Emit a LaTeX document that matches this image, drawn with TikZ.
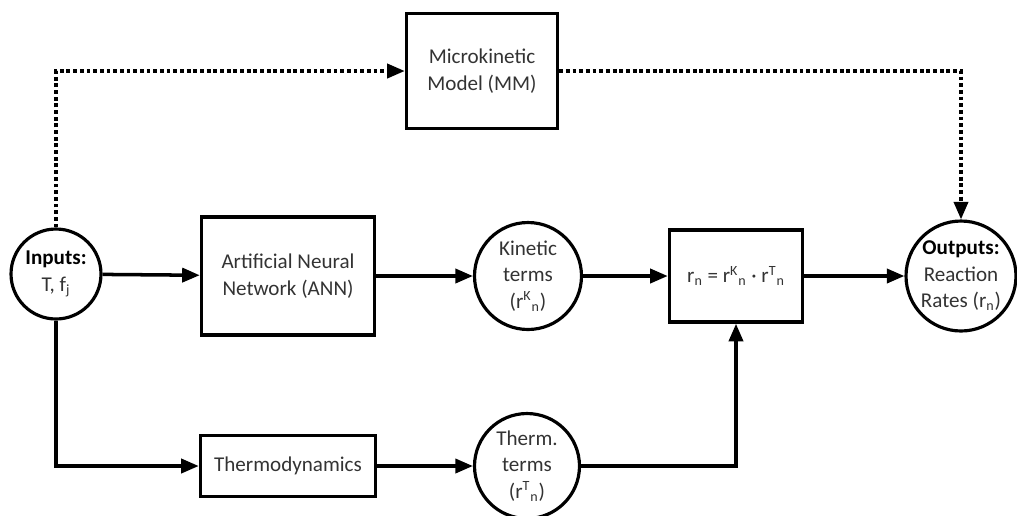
\documentclass[tikz,border=0pt]{standalone}
\usepackage{fontspec}
\setmainfont{Carlito}
\usetikzlibrary{arrows.meta}

\begin{document}
\begin{tikzpicture}[x=0.02cm,y=-0.02cm]
\tikzstyle{blk} = [draw,line width=2pt,rectangle,align=center,text=black!80,font=\fontsize{12}{15}\selectfont]
\tikzstyle{cir} = [draw,line width=1.8pt,circle,align=center,inner sep=0mm,text=black!80,font=\fontsize{12}{15}\selectfont]
\tikzstyle{a} = [line width=2pt,-{Triangle[length=10pt,width=8pt]}]
\tikzstyle{d} = [a,dash pattern=on 2.2pt off 1.6pt]
\useasboundingbox (0,0) rectangle (1017,515);
\node[cir,minimum size=1.8cm] (in) at (56,274) {\textbf{\color{black}Inputs:}\\T, f\textsubscript{j}};
\node[blk,minimum width=3.02cm,minimum height=2.3cm] (mm) at (482,71) {Microkinetic\\Model (MM)};
\node[blk,minimum width=3.46cm,minimum height=2.36cm] (ann) at (288,276) {Artificial Neural\\Network (ANN)};
\node[cir,minimum size=2.14cm] (kin) at (528,276) {Kinetic\\terms\\(r\textsuperscript{K}\textsubscript{n})};
\node[blk,minimum width=2.66cm,minimum height=1.84cm] (rn) at (736,276) {r\textsubscript{n} = r\textsuperscript{K}\textsubscript{n} · r\textsuperscript{T}\textsubscript{n}};
\node[cir,minimum size=2.2cm] (out) at (961,276) {\textbf{\color{black}Outputs:}\\Reaction\\Rates (r\textsubscript{n})};
\node[blk,minimum width=3.5cm,minimum height=1.22cm] (thd) at (288,466) {Thermodynamics};
\node[cir,minimum size=2.1cm] (tht) at (527,466) {Therm.\\terms\\(r\textsuperscript{T}\textsubscript{n})};
% main path
\draw[a] (in) -- (ann);
\draw[a] (ann) -- (kin);
\draw[a] (kin) -- (rn);
\draw[a] (rn) -- (out);
% thermodynamic branch
\draw[a] (in.south) |- (thd.west);
\draw[a] (thd) -- (tht);
\draw[a] (tht.east) -| (rn.south);
% microkinetic model
\draw[d] (in.north) |- (mm.west);
\draw[d] (mm.east) -| (out.north);
\end{tikzpicture}
\end{document}
